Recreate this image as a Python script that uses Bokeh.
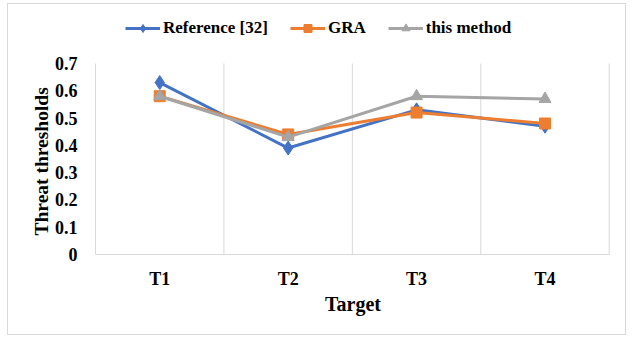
from bokeh.plotting import figure
from bokeh.models import FixedTicker, Legend, LegendItem, Range1d, Title
from bokeh.embed import file_html
from bokeh.resources import INLINE

categories = ["T1", "T2", "T3", "T4"]
reference_32 = [0.63, 0.39, 0.53, 0.47]
gra = [0.58, 0.44, 0.52, 0.48]
this_method = [0.58, 0.43, 0.58, 0.57]
y_ticks = [0, 0.1, 0.2, 0.3, 0.4, 0.5, 0.6, 0.7]
y_max = 0.7

FONT = "Liberation Serif"
GRID = "#d9d9d9"

xs = [i + 0.5 for i in range(len(categories))]

# frame extended upward to hold the legend
p = figure(width=619, height=332, output_backend="svg", toolbar_location=None,
           x_range=Range1d(0, len(categories) + 0.01), y_range=Range1d(0, 0.883),
           min_border_left=87, min_border_right=17, min_border_top=9, min_border_bottom=82)
p.styles = {"border": "1px solid #d9d9d9", "margin-left": "7px", "margin-top": "3px"}
p.outline_line_color = None
p.background_fill_color = "white"
p.border_fill_color = "white"

p.xaxis.ticker = FixedTicker(ticks=xs)
p.xaxis.major_label_overrides = {x: c for x, c in zip(xs, categories)}
p.xaxis.axis_label = "Target"
p.xaxis.bounds = (0, len(categories))
p.yaxis.ticker = FixedTicker(ticks=y_ticks)
p.yaxis.major_label_overrides = {0: "0"}
p.yaxis.bounds = (0, y_max)
for ax in (p.xaxis[0], p.yaxis[0]):
    ax.major_tick_line_color = None
    ax.minor_tick_line_color = None
    ax.axis_line_color = GRID
    ax.axis_line_width = 1
    ax.major_label_text_font = FONT
    ax.major_label_text_font_style = "bold"
    ax.major_label_text_font_size = "18px"
    ax.major_label_text_color = "black"
    ax.axis_label_text_font = FONT
    ax.axis_label_text_font_style = "bold"
    ax.axis_label_text_font_size = "20px"
    ax.axis_label_text_color = "black"
p.xaxis.major_label_standoff = 8
p.xaxis.axis_label_standoff = 1
p.yaxis.major_label_standoff = 12

ytitle = Title(text="Threat thresholds", align="left", offset=19, standoff=0,
               text_font=FONT, text_font_style="bold", text_font_size="19.5px",
               text_color="black")
p.add_layout(ytitle, "left")

p.xgrid.grid_line_color = None
p.ygrid.grid_line_color = None
bounds = list(range(1, len(categories) + 1))
p.segment(x0=bounds, y0=[0] * len(bounds), x1=bounds, y1=[y_max] * len(bounds),
          line_color=GRID, line_width=1)

series = [
    ("Reference [32]", reference_32, "#4472C4", "diamond", 14),
    ("GRA", gra, "#ED7D31", "square", 11),
    ("this method", this_method, "#A5A5A5", "triangle", 12),
]
items = []
for name, vals, col, mk, sz in series:
    l = p.line(xs, vals, line_color=col, line_width=3)
    m = p.scatter(xs, vals, marker=mk, size=sz, fill_color=col, line_color=col)
    items.append(LegendItem(label=name, renderers=[l, m]))

legend = Legend(items=items, orientation="horizontal", location=(30, 216),
                label_text_font=FONT, label_text_font_style="bold",
                label_text_font_size="17px", label_text_color="black",
                glyph_width=35, glyph_height=20, label_standoff=3, spacing=22,
                padding=0, margin=0, border_line_color=None, background_fill_alpha=0)
p.add_layout(legend, "center")

open("out.html", "w").write(file_html(p, INLINE))
